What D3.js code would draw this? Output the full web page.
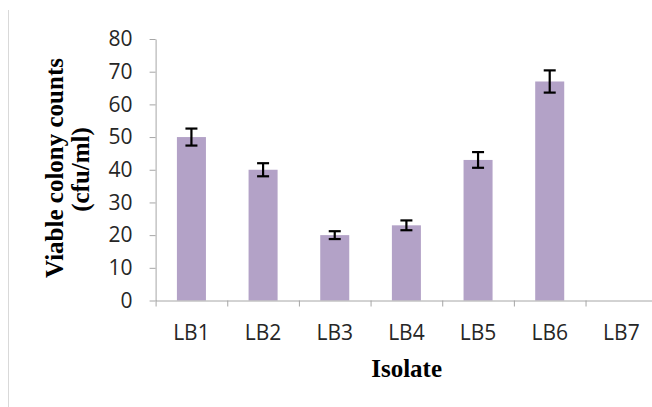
<!DOCTYPE html>
<html>
<head>
<meta charset="utf-8">
<script src="https://cdn.jsdelivr.net/npm/d3@7"></script>
<style>
  html, body { margin: 0; padding: 0; background: #fff; }
  svg { display: block; }
</style>
</head>
<body>
<svg id="chart" width="652" height="407"></svg>
<script>
const categories = ["LB1", "LB2", "LB3", "LB4", "LB5", "LB6", "LB7"];
const values = [50, 40, 20, 23, 43, 67, 0];
const errors = [2.6, 2, 1.2, 1.5, 2.4, 3.4, 0];
const yTicks = [0, 10, 20, 30, 40, 50, 60, 70, 80];
const xTitle = "Isolate";
const yTitle = ["Viable colony counts", "(cfu/ml)"];

const svg = d3.select("#chart");
const plotLeft = 155.6, plotRight = 657.2, plotTop = 39, plotBottom = 300.5;

const y = d3.scaleLinear().domain([0, 80]).range([plotBottom, plotTop]);
const x = d3.scaleBand().domain(categories).range([plotLeft, plotRight])
  .paddingInner(0.595).paddingOuter(0.2975);
const xIdx = d3.scaleLinear().domain([0, categories.length]).range([plotLeft, plotRight]);

const axisColor = "#a6a6a6";

// chart area left border
svg.append("line").attr("x1", 8.5).attr("x2", 8.5).attr("y1", 10).attr("y2", 407)
  .attr("stroke", "#d9d9d9").attr("stroke-width", 1);

// y axis
const gy = svg.append("g").attr("transform", `translate(${plotLeft},0)`)
  .call(d3.axisLeft(y).tickValues(yTicks).tickSize(6).tickSizeOuter(0).tickPadding(17));
gy.select(".domain").attr("stroke", axisColor);
gy.selectAll(".tick line").attr("stroke", axisColor);
gy.selectAll(".tick text").attr("fill", "#262626")
  .style("font-family", "'Open Sans', sans-serif").style("font-size", "21px");

// bars
svg.append("g").selectAll("rect").data(categories).join("rect")
  .attr("x", d => x(d))
  .attr("width", x.bandwidth())
  .attr("y", (d, i) => y(values[i]))
  .attr("height", (d, i) => y(0) - y(values[i]))
  .attr("fill", "#b3a2c7");

// error bars
const eb = svg.append("g").attr("stroke", "#000").attr("stroke-width", 2.2);
categories.forEach((c, i) => {
  if (!errors[i]) return;
  const cx = x(c) + x.bandwidth() / 2;
  const hi = y(values[i] + errors[i]), lo = y(values[i] - errors[i]);
  eb.append("line").attr("x1", cx).attr("x2", cx).attr("y1", hi).attr("y2", lo);
  eb.append("line").attr("x1", cx - 6).attr("x2", cx + 6).attr("y1", hi).attr("y2", hi);
  eb.append("line").attr("x1", cx - 6).attr("x2", cx + 6).attr("y1", lo).attr("y2", lo);
});

// x axis (tick marks at category boundaries)
const gxt = svg.append("g").attr("transform", `translate(0,${plotBottom})`)
  .call(d3.axisBottom(xIdx).ticks(categories.length).tickSize(6).tickSizeOuter(0).tickFormat(""));
gxt.select(".domain").attr("stroke", axisColor);
gxt.selectAll(".tick line").attr("stroke", axisColor);

// x labels
const gx = svg.append("g").attr("transform", `translate(0,${plotBottom})`)
  .call(d3.axisBottom(x).tickSize(0).tickPadding(24.5));
gx.select(".domain").remove();
gx.selectAll(".tick text").attr("fill", "#262626")
  .style("font-family", "'Open Sans', sans-serif").style("font-size", "21px");

// titles
svg.append("text").attr("x", 406.6).attr("y", 377).attr("text-anchor", "middle")
  .style("font-family", "'Liberation Serif', 'Times New Roman', serif")
  .style("font-weight", "bold").style("font-size", "25px").attr("fill", "#000")
  .text(xTitle);

const yt = svg.append("text").attr("transform", "rotate(-90)")
  .attr("text-anchor", "middle")
  .style("font-family", "'Liberation Serif', 'Times New Roman', serif")
  .style("font-weight", "bold").style("font-size", "25px").attr("fill", "#000");
yt.append("tspan").attr("x", -168).attr("y", 63).text(yTitle[0]);
yt.append("tspan").attr("x", -169.5).attr("y", 89).text(yTitle[1]);
</script>
</body>
</html>
